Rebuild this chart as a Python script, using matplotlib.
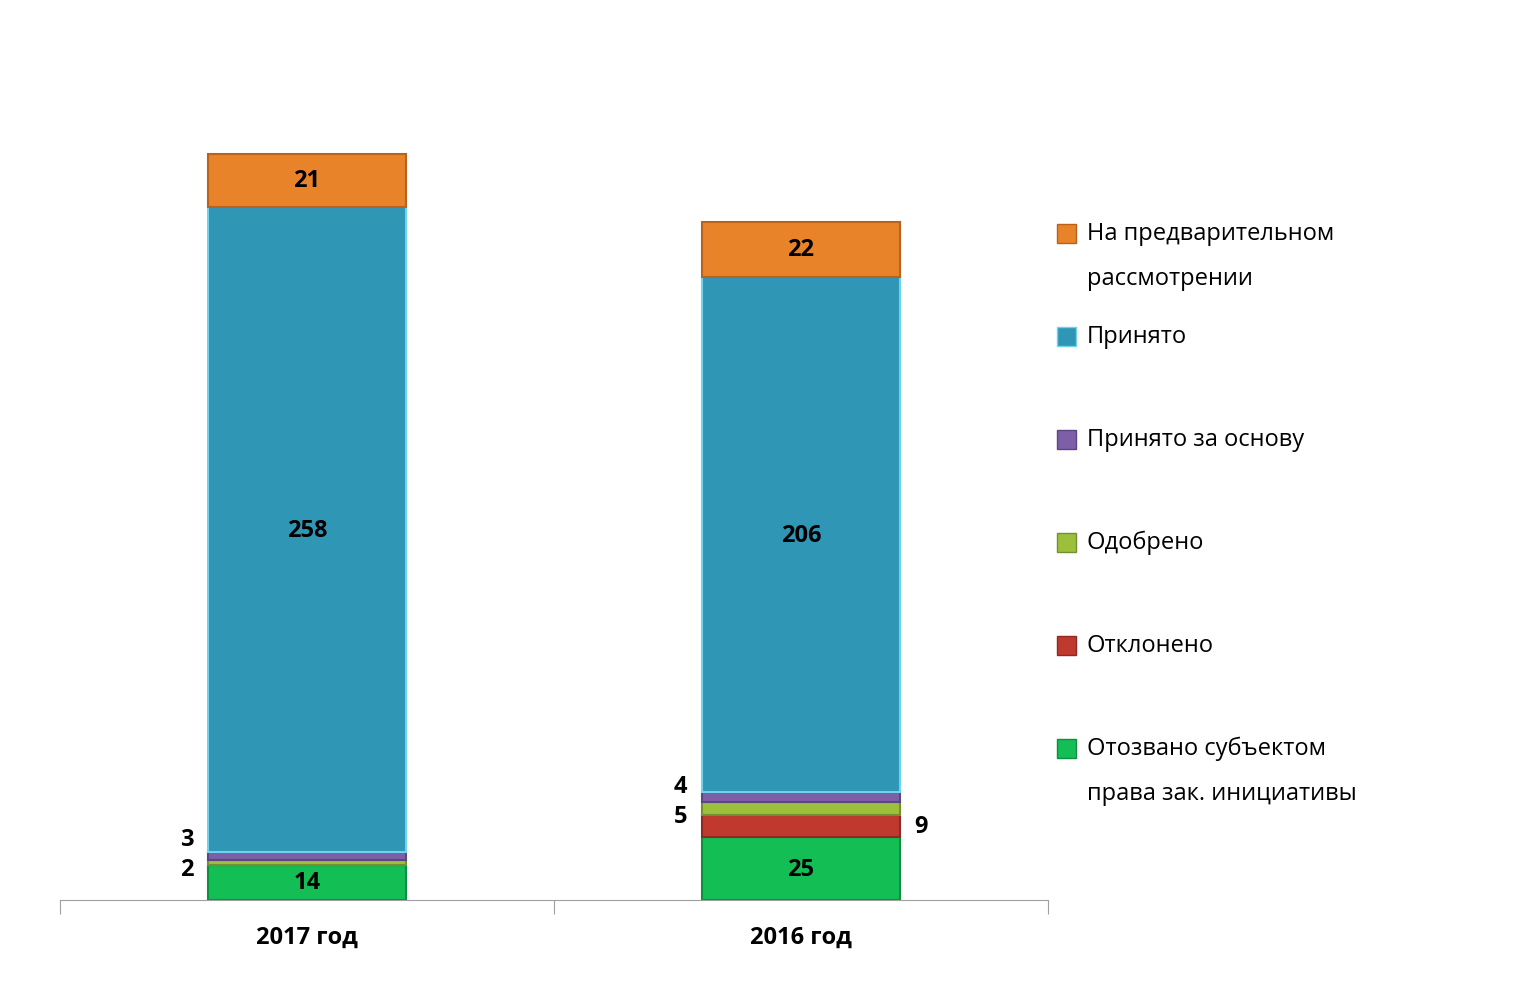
import matplotlib.pyplot as plt
from matplotlib.patches import Rectangle

plt.rcParams['font.family'] = 'Open Sans'

categories = ['2017 год', '2016 год']
series_names = ['Отозвано субъектом\nправа зак. инициативы', 'Отклонено', 'Одобрено',
                'Принято за основу', 'Принято', 'На предварительном\nрассмотрении']
values = [
    [14, 25],
    [0, 9],
    [2, 5],
    [3, 4],
    [258, 206],
    [21, 22],
]
colors = ['#13BF55', '#C0392F', '#9DC03C', '#7D5FA8', '#2F96B5', '#E8832A']
edges = ['#0E8F3F', '#8E2A22', '#739030', '#5C4580', '#6FD3EE', '#B8621C']

W, H = 1524, 995
fig = plt.figure(figsize=(W / 100, H / 100), dpi=100)
ax = fig.add_axes([60 / W, 94 / H, 988 / W, 876 / H])

x = range(len(categories))
bottom = [0, 0]
for vals, c, e in zip(values, colors, edges):
    ax.bar(x, vals, width=0.4, bottom=bottom, color=c, edgecolor=e, linewidth=1.5)
    for i, v in enumerate(vals):
        if v >= 14:
            ax.text(i, bottom[i] + v / 2, str(v), ha='center', va='center',
                    fontsize=17, fontweight='bold')
    bottom = [b + v for b, v in zip(bottom, vals)]

# small segment labels beside the bars
small = [(0, 24.4, '3', 'left'), (0, 12.4, '2', 'left'),
         (1, 45.6, '4', 'left'), (1, 33.6, '5', 'left'), (1, 29.6, '9', 'right')]
for i, y, t, side in small:
    xx = i - 0.23 if side == 'left' else i + 0.23
    ax.text(xx, y, t, ha='right' if side == 'left' else 'left', va='center',
            fontsize=17, fontweight='bold')

ax.set_xlim(-0.5, 1.5)
ax.set_ylim(0, 350)
ax.set_yticks([])
for s in ['top', 'right', 'left']:
    ax.spines[s].set_visible(False)
ax.spines['bottom'].set_color('#A0A0A0')
ax.set_xticks([-0.5, 0.5, 1.5])
ax.set_xticklabels([])
ax.tick_params(axis='x', length=10, color='#A0A0A0', direction='out')
for i, c in enumerate(categories):
    ax.text(i, -10, c, ha='center', va='top', fontsize=17, fontweight='bold')

# legend, top to bottom
legend_y = [256, 337, 440, 543, 646, 771]
for name, c, e, yp in zip(series_names[::-1], colors[::-1], edges[::-1], legend_y[::-1][::-1]):
    pass
order = list(range(len(series_names)))[::-1]
for k, idx in enumerate(order):
    yp = legend_y[k]
    top_line = yp if '\n' not in series_names[idx] else yp - 22
    fig.patches.append(Rectangle((1057 / W, 1 - (top_line + 10) / H), 19 / W, 19 / H,
                                 transform=fig.transFigure, facecolor=colors[idx],
                                 edgecolor=edges[idx], linewidth=1))
    fig.text(1087 / W, 1 - top_line / H, series_names[idx].split('\n')[0],
             fontsize=17, va='center', ha='left')
    if '\n' in series_names[idx]:
        fig.text(1087 / W, 1 - (top_line + 45) / H, series_names[idx].split('\n')[1],
                 fontsize=17, va='center', ha='left')

fig.savefig('out.png', dpi=100)
